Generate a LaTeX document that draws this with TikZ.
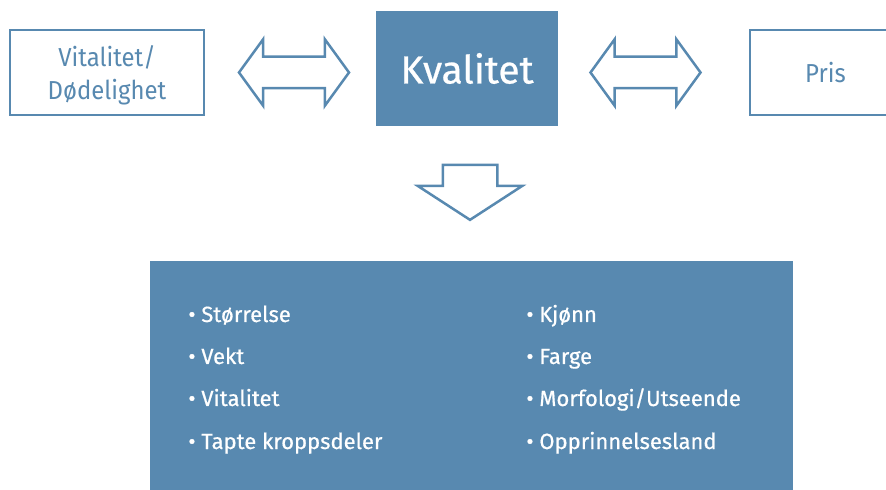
\documentclass[tikz,border=0pt]{standalone}
\usepackage{fontspec}
\setmainfont{Fira Sans}
\newfontfamily\lightfont{Fira Sans}[FakeStretch=0.92]
\newfontfamily\medfont{Fira Sans}[FakeBold=0.6]
\usepackage{tikz}
\usetikzlibrary{shapes.arrows}
\definecolor{mainblue}{RGB}{88,137,176}

\begin{document}
\begin{tikzpicture}[
  x=0.5pt, y=0.5pt,
  every node/.style={font=\lightfont\fontsize{13}{16.5}\selectfont},
  outbox/.style={draw=mainblue, line width=1.25pt, fill=white, text=mainblue,
                 align=center, minimum width=97pt, minimum height=42.5pt},
  dblarr/.style={double arrow, draw=mainblue, line width=1.25pt, fill=white,
                 minimum height=55pt, inner xsep=0pt, inner ysep=7.25pt,
                 double arrow head extend=8.75pt, double arrow tip angle=108},
  downarr/.style={single arrow, draw=mainblue, line width=1.25pt, fill=white,
                  minimum height=27.5pt, inner xsep=0pt, inner ysep=13pt,
                  single arrow head extend=12.5pt, single arrow tip angle=114},
  item/.style={anchor=base west, text=white, inner sep=0pt,
               font=\medfont\fontsize{11}{13}\selectfont}
]
\useasboundingbox (0,0) rectangle (886,-490);

% Top row
\node[outbox, text depth=0pt] (vital) at (107,-72.5) {Vitalitet/\\Dødelighet};
\node[fill=mainblue, text=white, minimum width=91pt, minimum height=57.5pt,
      font=\medfont\fontsize{19.5}{22}\selectfont] (kval) at (467,-68.5) {Kvalitet};
\node[outbox, minimum width=75.5pt] (pris) at (825.5,-72.5) {Pris};

% Block arrows
\node[dblarr] (vk) at (294,-72.5) {};
\node[dblarr] (kp) at (645.5,-72.5) {};
\node[downarr, rotate=-90] (down) at (470,-183.5) {};

% Bottom box
\node[fill=mainblue, minimum width=321.5pt, minimum height=124.5pt]
  (list) at (471.5,-385.5) {};

% Items, left column
\node[item] (l1) at (188,-322) {\textbullet\ Størrelse};
\node[item] (l2) at (188,-364) {\textbullet\ Vekt};
\node[item] (l3) at (188,-406) {\textbullet\ Vitalitet};
\node[item] (l4) at (188,-449) {\textbullet\ Tapte kroppsdeler};

% Items, right column
\node[item] (r1) at (526,-322) {\textbullet\ Kjønn};
\node[item] (r2) at (526,-364) {\textbullet\ Farge};
\node[item] (r3) at (526,-406) {\textbullet\ Morfologi/Utseende};
\node[item] (r4) at (526,-449) {\textbullet\ Opprinnelsesland};

\end{tikzpicture}
\end{document}
